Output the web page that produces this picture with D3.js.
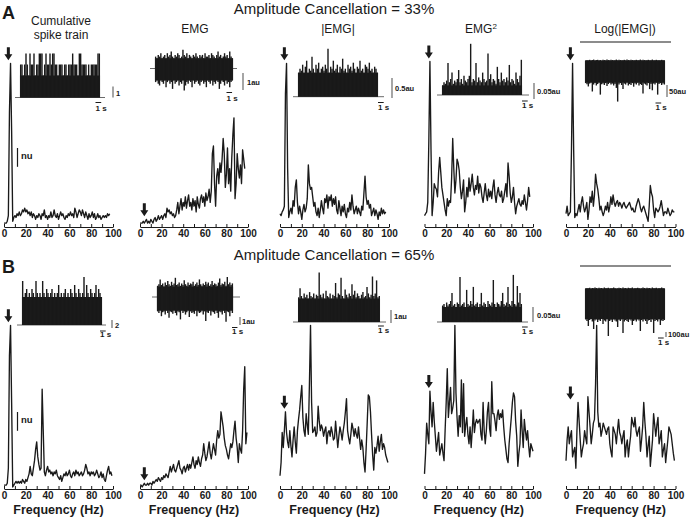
<!DOCTYPE html>
<html><head><meta charset="utf-8">
<script src="https://cdn.jsdelivr.net/npm/d3@7"></script>
<style>body{margin:0;background:#fff}svg{display:block}text{font-family:"Liberation Sans",Arial,Helvetica,sans-serif;fill:#1a1a1a}</style>
</head><body><svg id="c" width="694" height="518"></svg>
<script>
// ---------------- DATA ----------------
const rowHeadings = ["Amplitude Cancellation = 33%", "Amplitude Cancellation = 65%"];
const rowLetters = ["A", "B"];
const columnTitles = ["Cumulative spike train", "EMG", "|EMG|", "EMG2", "Log(|EMG|)"];
const freqTicks = [0, 20, 40, 60, 80, 100];
const freqStepHz = 1;
const xLabel = "Frequency (Hz)";
const nuLabel = "nu";

// Spectra (normalized units), one value per Hz starting at 0 Hz
const specA1 = [0.01,0.01,0.01,0.02,0.05,0.6,0.86,0.5,0.02,0.04,0.05,0.04,0.06,0.05,0.07,0.05,0.06,0.08,0.07,0.09,0.07,0.08,0.06,0.07,0.05,0.07,0.04,0.06,0.05,0.03,0.05,0.04,0.06,0.05,0.03,0.06,0.05,0.08,0.04,0.05,0.03,0.05,0.04,0.07,0.04,0.05,0.08,0.05,0.04,0.06,0.03,0.05,0.07,0.05,0.06,0.04,0.03,0.05,0.04,0.06,0.05,0.07,0.05,0.06,0.04,0.09,0.07,0.04,0.06,0.08,0.07,0.05,0.08,0.06,0.04,0.07,0.05,0.03,0.06,0.04,0.05,0.07,0.04,0.06,0.03,0.04,0.06,0.04,0.05,0.03,0.04,0.05,0.04,0.05,0.04,0.06,0.05,0.06];
const specA2 = [0.01,0.01,0.01,0.02,0.01,0.02,0.03,0.01,0.02,0.01,0.03,0.02,0.01,0.03,0.04,0.02,0.03,0.05,0.03,0.04,0.05,0.03,0.05,0.06,0.04,0.09,0.07,0.08,0.06,0.07,0.05,0.06,0.04,0.05,0.08,0.12,0.06,0.10,0.14,0.08,0.12,0.10,0.15,0.09,0.13,0.16,0.10,0.12,0.08,0.14,0.10,0.13,0.07,0.15,0.11,0.09,0.14,0.16,0.12,0.15,0.10,0.17,0.13,0.15,0.19,0.12,0.18,0.38,0.42,0.22,0.10,0.26,0.30,0.22,0.33,0.28,0.35,0.46,0.38,0.20,0.27,0.41,0.22,0.30,0.18,0.36,0.48,0.57,0.14,0.22,0.38,0.30,0.25,0.32,0.22,0.40,0.35,0.30];
const specA3 = [0.06,0.05,0.07,0.08,0.10,0.70,0.86,0.30,0.04,0.07,0.09,0.06,0.13,0.10,0.20,0.24,0.12,0.06,0.10,0.07,0.03,0.08,0.11,0.07,0.09,0.14,0.32,0.22,0.19,0.20,0.15,0.10,0.12,0.07,0.05,0.09,0.04,0.08,0.13,0.09,0.06,0.14,0.12,0.16,0.09,0.15,0.13,0.16,0.10,0.14,0.11,0.15,0.08,0.06,0.13,0.09,0.05,0.10,0.07,0.11,0.06,0.04,0.09,0.07,0.12,0.08,0.16,0.10,0.06,0.08,0.10,0.06,0.09,0.07,0.05,0.10,0.08,0.17,0.26,0.15,0.11,0.13,0.09,0.11,0.05,0.07,0.09,0.05,0.08,0.06,0.03,0.07,0.05,0.09,0.06,0.08,0.06,0.07];
const specA4 = [0.05,0.06,0.07,0.12,0.45,0.87,0.40,0.05,0.12,0.22,0.20,0.19,0.15,0.28,0.36,0.28,0.20,0.16,0.12,0.08,0.05,0.14,0.10,0.13,0.12,0.25,0.46,0.30,0.17,0.24,0.35,0.33,0.29,0.20,0.14,0.18,0.24,0.07,0.12,0.20,0.15,0.25,0.18,0.22,0.27,0.20,0.16,0.21,0.19,0.26,0.17,0.22,0.20,0.15,0.12,0.17,0.22,0.16,0.13,0.19,0.15,0.18,0.14,0.20,0.24,0.16,0.12,0.17,0.20,0.16,0.15,0.18,0.12,0.14,0.18,0.22,0.15,0.33,0.26,0.17,0.12,0.15,0.20,0.12,0.06,0.10,0.12,0.14,0.11,0.10,0.13,0.11,0.16,0.12,0.08,0.13,0.20,0.15];
const specA5 = [0.06,0.10,0.05,0.06,0.07,0.40,0.86,0.40,0.04,0.06,0.05,0.08,0.11,0.07,0.12,0.15,0.10,0.07,0.09,0.12,0.03,0.08,0.15,0.12,0.18,0.10,0.16,0.27,0.22,0.19,0.14,0.08,0.10,0.07,0.05,0.07,0.10,0.08,0.12,0.07,0.10,0.15,0.11,0.16,0.12,0.10,0.12,0.13,0.10,0.12,0.11,0.09,0.11,0.12,0.10,0.09,0.10,0.11,0.12,0.10,0.08,0.09,0.07,0.07,0.10,0.12,0.14,0.12,0.09,0.07,0.09,0.10,0.08,0.06,0.04,0.02,0.10,0.21,0.17,0.15,0.08,0.04,0.09,0.08,0.07,0.08,0.10,0.13,0.09,0.05,0.07,0.07,0.06,0.09,0.07,0.05,0.06,0.08,0.07,0.07];
const specB1 = [0.01,0.01,0.01,0.02,0.10,0.70,0.86,0.45,0.00,0.01,0.02,0.03,0.02,0.03,0.02,0.03,0.02,0.04,0.03,0.02,0.04,0.03,0.05,0.07,0.11,0.07,0.06,0.10,0.14,0.20,0.24,0.16,0.12,0.09,0.10,0.52,0.30,0.08,0.06,0.09,0.11,0.08,0.09,0.07,0.08,0.06,0.08,0.07,0.09,0.06,0.05,0.04,0.06,0.03,0.05,0.07,0.06,0.08,0.06,0.07,0.09,0.06,0.05,0.07,0.08,0.06,0.09,0.07,0.08,0.06,0.07,0.08,0.06,0.07,0.09,0.12,0.10,0.07,0.08,0.06,0.08,0.07,0.08,0.06,0.07,0.09,0.07,0.05,0.06,0.08,0.05,0.07,0.04,0.03,0.06,0.09,0.11,0.07,0.08,0.06];
const specB2 = [0.01,0.01,0.00,0.01,0.02,0.01,0.01,0.02,0.01,0.02,0.02,0.01,0.03,0.02,0.03,0.04,0.03,0.05,0.04,0.03,0.05,0.04,0.06,0.05,0.07,0.06,0.05,0.08,0.11,0.08,0.10,0.12,0.09,0.08,0.10,0.12,0.14,0.10,0.09,0.07,0.10,0.11,0.08,0.10,0.12,0.09,0.12,0.10,0.13,0.16,0.12,0.10,0.14,0.12,0.16,0.13,0.11,0.15,0.17,0.23,0.18,0.14,0.16,0.20,0.24,0.18,0.15,0.19,0.23,0.20,0.17,0.25,0.30,0.26,0.28,0.40,0.36,0.32,0.26,0.22,0.20,0.17,0.15,0.19,0.23,0.21,0.24,0.30,0.35,0.26,0.21,0.13,0.23,0.20,0.18,0.30,0.52,0.64,0.23,0.29];
const specB3 = [0.06,0.13,0.29,0.21,0.30,0.40,0.29,0.24,0.21,0.30,0.22,0.16,0.25,0.32,0.24,0.18,0.30,0.36,0.41,0.48,0.54,0.37,0.30,0.27,0.39,0.33,0.28,0.55,0.86,0.45,0.29,0.30,0.32,0.27,0.29,0.43,0.35,0.30,0.33,0.31,0.27,0.30,0.32,0.23,0.29,0.30,0.27,0.32,0.29,0.25,0.26,0.35,0.28,0.21,0.27,0.32,0.29,0.25,0.30,0.34,0.40,0.47,0.30,0.26,0.23,0.28,0.34,0.31,0.27,0.31,0.28,0.26,0.32,0.26,0.20,0.25,0.21,0.13,0.08,0.20,0.34,0.49,0.48,0.40,0.28,0.17,0.09,0.21,0.18,0.22,0.27,0.19,0.24,0.28,0.20,0.23,0.21,0.17,0.15,0.13];
const specB4 = [0.07,0.18,0.34,0.28,0.23,0.51,0.40,0.32,0.45,0.35,0.27,0.19,0.24,0.29,0.17,0.20,0.23,0.18,0.14,0.30,0.45,0.63,0.37,0.45,0.53,0.39,0.42,0.46,0.86,0.50,0.37,0.27,0.38,0.32,0.57,0.29,0.55,0.27,0.33,0.37,0.28,0.23,0.32,0.21,0.30,0.41,0.29,0.34,0.36,0.34,0.35,0.36,0.28,0.25,0.45,0.30,0.23,0.30,0.40,0.45,0.31,0.27,0.56,0.39,0.39,0.35,0.30,0.38,0.41,0.36,0.39,0.37,0.41,0.32,0.25,0.20,0.15,0.13,0.23,0.30,0.37,0.45,0.50,0.48,0.35,0.27,0.11,0.18,0.23,0.41,0.30,0.21,0.36,0.30,0.25,0.30,0.22,0.16,0.23,0.21,0.19];
const specB5 = [0.14,0.25,0.32,0.23,0.27,0.30,0.16,0.19,0.21,0.10,0.30,0.45,0.35,0.25,0.16,0.20,0.23,0.30,0.26,0.23,0.48,0.40,0.32,0.23,0.28,0.34,0.36,0.55,0.86,0.40,0.32,0.34,0.27,0.30,0.34,0.32,0.30,0.28,0.31,0.32,0.23,0.19,0.16,0.32,0.30,0.28,0.23,0.30,0.36,0.29,0.27,0.23,0.27,0.30,0.16,0.22,0.25,0.16,0.22,0.27,0.37,0.34,0.32,0.37,0.30,0.27,0.30,0.32,0.19,0.25,0.32,0.45,0.35,0.27,0.16,0.22,0.27,0.11,0.18,0.25,0.39,0.33,0.27,0.33,0.37,0.23,0.26,0.30,0.16,0.20,0.23,0.13,0.19,0.25,0.32,0.30,0.28,0.23,0.18,0.14];

// Inset time series (60 bins over the recording)
const insetDurationS = 14;
const spikeA1 = [3,3,2,3,4,3,2,4,3,3,4,2,3,3,4,4,4,2,3,4,3,3,4,3,4,4,3,3,2,3,3,3,2,3,3,2,3,3,3,4,3,3,3,2,4,4,3,3,3,3,2,3,2,3,3,3,3,3,4,4];
const emgA2Pos = [0.7,0.6,0.8,0.7,0.9,0.6,0.7,0.8,0.6,0.9,0.7,0.8,1.0,0.7,0.6,0.8,0.7,0.9,0.8,0.6,0.7,1.1,0.8,0.7,0.9,0.6,0.8,0.7,0.6,0.8,0.7,0.9,0.7,0.6,0.8,0.7,0.8,0.6,0.9,0.7,0.7,0.8,0.6,0.9,0.8,0.7,0.6,0.8,1.0,0.7,0.8,0.6,0.7,0.9,0.7,0.8,0.6,1.0,0.7,0.6];
const emgA2Neg = [-0.8,-0.7,-0.9,-1.0,-0.7,-0.8,-0.9,-0.7,-1.1,-0.8,-0.7,-0.9,-0.8,-1.2,-0.7,-0.9,-0.8,-0.7,-1.0,-0.8,-0.9,-0.7,-1.3,-1.0,-0.8,-0.9,-0.7,-0.8,-1.1,-0.7,-0.9,-0.8,-0.7,-0.9,-1.0,-0.8,-0.7,-0.9,-0.8,-1.1,-0.7,-0.8,-0.9,-0.7,-1.0,-0.8,-0.9,-0.7,-0.8,-1.2,-0.9,-0.7,-0.8,-1.0,-0.7,-0.9,-0.8,-1.1,-0.8,-0.7];
const rectA3 = [0.6,0.7,0.65,0.8,0.6,0.75,0.9,0.6,0.7,0.65,1.0,0.7,0.6,0.8,0.7,0.85,0.6,0.7,0.75,0.65,0.8,0.7,1.2,0.6,0.75,0.7,0.9,0.65,0.7,0.8,0.6,0.75,0.7,0.95,0.65,0.7,0.6,0.8,0.7,0.75,0.65,0.85,0.7,0.6,0.75,0.7,0.9,0.65,0.7,0.6,0.8,0.75,0.7,0.85,0.65,0.7,0.6,0.75,0.7,0.6];
const sqA4 = [0.03,0.04,0.035,0.045,0.10,0.04,0.05,0.07,0.035,0.045,0.04,0.05,0.078,0.04,0.05,0.035,0.06,0.045,0.04,0.05,0.06,0.16,0.04,0.05,0.045,0.10,0.04,0.055,0.045,0.04,0.07,0.05,0.04,0.045,0.13,0.05,0.065,0.04,0.05,0.045,0.035,0.088,0.05,0.04,0.07,0.045,0.05,0.04,0.055,0.045,0.094,0.04,0.05,0.045,0.035,0.07,0.05,0.04,0.06,0.11];
const logA5Hi = [4,6,5,7,5,6,8,5,6,7,5,6,4,7,6,5,8,6,5,7,6,5,6,8,5,7,6,5,6,7,5,8,6,5,7,6,5,6,7,5,6,8,5,7,6,5,6,7,5,6,8,5,6,7,5,6,5,7,6,5];
const logA5Lo = [-90,-95,-104,-92,-88,-125,-96,-90,-100,-94,-88,-138,-95,-92,-98,-90,-102,-94,-88,-96,-92,-100,-94,-110,-167,-96,-90,-98,-115,-92,-96,-88,-100,-94,-98,-90,-105,-92,-96,-88,-100,-94,-98,-133,-92,-96,-100,-90,-115,-94,-120,-92,-96,-88,-138,-94,-90,-98,-92,-96];
const spikeB1 = [11,7,8,9,7,8,7,9,8,7,11,8,7,8,7,11,8,7,9,8,7,8,9,7,8,7,8,10,7,8,7,8,9,7,8,7,9,8,7,10,8,7,9,8,7,8,12,7,10,8,7,9,8,7,8,10,7,9,8,7];
const emgB2Pos = [1.4,1.6,2.2,1.5,1.7,1.3,1.8,1.5,2.0,1.6,1.4,1.9,1.5,1.7,2.4,1.5,1.6,1.8,1.4,1.7,1.5,2.1,1.6,1.4,1.8,1.5,1.7,1.6,1.9,1.4,1.6,1.8,1.5,2.2,1.6,1.4,1.7,1.5,1.9,1.6,1.8,1.4,1.6,2.0,1.5,1.7,1.6,1.4,1.8,2.3,1.5,1.7,1.6,1.9,1.4,2.5,1.6,1.8,1.5,1.7];
const emgB2Neg = [-1.8,-2.0,-1.7,-2.4,-1.9,-1.8,-2.2,-1.7,-2.0,-2.6,-1.8,-1.9,-2.1,-1.7,-2.0,-2.3,-1.8,-1.9,-2.8,-1.7,-2.0,-1.8,-2.2,-1.9,-1.7,-2.5,-1.8,-2.0,-1.9,-2.1,-1.7,-2.4,-1.8,-2.0,-1.9,-1.7,-2.2,-1.8,-3.0,-1.9,-2.0,-1.7,-2.3,-1.8,-1.9,-2.1,-1.7,-2.0,-2.6,-1.8,-1.9,-2.2,-1.7,-2.0,-3.1,-1.8,-1.9,-2.4,-1.7,-2.0];
const rectB3 = [1.9,2.6,2.0,1.8,2.2,1.9,2.1,1.8,2.3,2.0,1.9,2.2,1.8,2.1,2.0,3.8,2.1,1.9,2.2,1.8,2.4,2.0,1.9,2.2,1.8,2.1,2.0,3.0,1.9,2.2,2.1,3.4,2.0,1.8,2.5,2.1,1.9,2.2,2.0,2.9,2.1,2.4,1.9,2.2,2.0,1.8,2.1,2.3,1.9,2.0,2.7,2.2,1.9,2.1,3.5,2.0,2.2,3.2,1.9,2.0];
const sqB4 = [0.055,0.06,0.05,0.065,0.055,0.06,0.07,0.097,0.055,0.06,0.05,0.065,0.06,0.15,0.055,0.06,0.065,0.05,0.107,0.06,0.055,0.07,0.06,0.117,0.055,0.06,0.065,0.05,0.06,0.097,0.055,0.065,0.06,0.05,0.07,0.06,0.055,0.065,0.14,0.06,0.05,0.065,0.06,0.055,0.07,0.097,0.06,0.055,0.065,0.117,0.06,0.055,0.07,0.157,0.06,0.055,0.12,0.065,0.097,0.06];
const logB5Hi = [10,20,15,25,10,20,15,30,20,10,25,15,20,10,30,15,20,25,10,20,15,30,20,10,15,25,20,10,30,15,20,10,25,15,20,30,10,20,15,25,20,10,15,30,20,10,25,15,20,10,30,15,20,25,10,20,15,30,20,10];
const logB5Lo = [-610,-640,-740,-620,-600,-650,-800,-630,-610,-660,-620,-640,-600,-700,-630,-650,-610,-940,-640,-620,-660,-610,-630,-650,-760,-620,-640,-610,-880,-650,-620,-640,-660,-610,-630,-720,-640,-620,-650,-610,-630,-840,-620,-650,-610,-640,-700,-630,-620,-660,-610,-880,-640,-620,-650,-610,-720,-630,-640,-620];

// Scale-bar values
const scaleBarValues = [[1, 1, 0.5, 0.05, 50], [2, 1, 1, 0.05, 100]];
const scaleBarLabels = [["1", "1au", "0.5au", "0.05au", "50au"], ["2", "1au", "1au", "0.05au", "100au"]];
const timeBarLabel = "1 s";

// ---------------- LAYOUT ----------------
const svg = d3.select("#c");
const INK = "#1a1a1a", GREY = "#6a6a6a";
const cols = [{x0:4,x1:113},{x0:140,x1:248},{x0:280,x1:389},{x0:424.5,x1:533},{x0:566,x1:675.5}];
const rows = [{axisY:227, zeroY:225, oneY:37, nuTop:148}, {axisY:489, zeroY:487, oneY:299, nuTop:412}];
const spectra = [[specA1,specA2,specA3,specA4,specA5],[specB1,specB2,specB3,specB4,specB5]];

rowLetters.forEach((L,r) => {
  svg.append("text").attr("x", 2).attr("y", r ? 273 : 19).attr("font-size", 18).attr("font-weight", "bold").text(L);
});
rowHeadings.forEach((h,r) => {
  svg.append("text").attr("x", 334).attr("y", r ? 260 : 14).attr("text-anchor","middle").attr("font-size", 15).text(h);
});

const titleWords = columnTitles[0].split(" ");
svg.append("text").attr("x",61).attr("y",25).attr("text-anchor","middle").attr("font-size",12).text(titleWords[0]);
svg.append("text").attr("x",61).attr("y",38.5).attr("text-anchor","middle").attr("font-size",12).text(titleWords.slice(1).join(" "));
svg.append("text").attr("x",195).attr("y",33).attr("text-anchor","middle").attr("font-size",12).text(columnTitles[1]);
svg.append("text").attr("x",338).attr("y",33).attr("text-anchor","middle").attr("font-size",12).text(columnTitles[2]);
const t3 = svg.append("text").attr("x",481).attr("y",33).attr("text-anchor","middle").attr("font-size",12);
t3.append("tspan").text(columnTitles[3].slice(0,3));
t3.append("tspan").attr("font-size",8).attr("dy",-4.5).text(columnTitles[3].slice(3));
svg.append("text").attr("x",625).attr("y",33).attr("text-anchor","middle").attr("font-size",12).text(columnTitles[4]);

rows.forEach((R, r) => {
  cols.forEach((C, c) => {
    const data = spectra[r][c];
    const x = d3.scaleLinear().domain([0,100]).range([C.x0, C.x1]);
    const y = d3.scaleLinear().domain([0,1]).range([R.zeroY, R.oneY]);
    const g = svg.append("g");
    g.append("path").attr("fill","none").attr("stroke",INK).attr("stroke-width",1.35).attr("stroke-linejoin","round")
      .attr("d", d3.line()(data.map((v,i) => [x(i*freqStepHz), y(v)])));
    const ax = g.append("g").attr("transform",`translate(0,${R.axisY})`)
      .call(d3.axisBottom(x).tickValues(d3.range(0,101,10)).tickSizeInner(-3).tickSizeOuter(0).tickPadding(3)
        .tickFormat(d => freqTicks.includes(d) ? d : ""));
    ax.select(".domain").attr("stroke", INK).attr("stroke-width", 1);
    ax.selectAll(".tick line").attr("stroke", INK);
    ax.selectAll(".tick text").attr("font-size", 10).attr("font-weight","bold").attr("fill", INK)
      .attr("font-family",'"Liberation Sans",Arial,sans-serif');
    if (r === 1) {
      g.append("text").attr("x",(C.x0+C.x1)/2).attr("y",514).attr("text-anchor","middle")
        .attr("font-size",12.5).attr("font-weight","bold").text(xLabel);
    }
    const ax4 = x(4);
    const tip = y(d3.max(data.slice(3,12))) - 3;
    const top = tip - 13;
    g.append("path").attr("fill", INK)
      .attr("d", `M${ax4-1.5},${top}H${ax4+1.5}V${tip-6}H${ax4+4}L${ax4},${tip}L${ax4-4},${tip-6}H${ax4-1.5}Z`);
    if (c === 0) {
      const nuLen = y(0) - y(0.1);
      g.append("line").attr("x1",17.5).attr("x2",17.5).attr("y1",R.nuTop).attr("y2",R.nuTop+nuLen).attr("stroke",INK).attr("stroke-width",1.2);
      g.append("text").attr("x",21).attr("y",R.nuTop+11).attr("font-size",9.5).attr("font-weight","bold").text(nuLabel);
    }
  });
});

// ---------------- INSETS ----------------
const insets = [
  {r:0,c:0,type:"bar",  d:[spikeA1], x0:20,  x1:100, base:97.5, k:11,   line:[15,105],  lineY:97.5, v:{x:113,y:97.5,lx:116,ly:96},  t:{x:95.5,y:102.5,ty:111}},
  {r:0,c:1,type:"bi",   d:[emgA2Pos,emgA2Neg], x0:155, x1:233, base:68.5, k:17, line:[150,237], lineY:68.5, v:{x:243,y:90,lx:247,ly:85}, t:{x:226.5,y:92.5,ty:101}},
  {r:0,c:2,type:"bar",  d:[rectA3], x0:298, x1:378, base:96.7, k:40,  line:[293,384], lineY:96.7, v:{x:392,y:98,lx:395,ly:91}, t:{x:378,y:102.5,ty:110}},
  {r:0,c:3,type:"bar",  d:[sqA4],   x0:442, x1:522, base:95,   k:320, line:[437,529], lineY:95, v:{x:534,y:99,lx:537,ly:94}, t:{x:522,y:101,ty:108}},
  {r:0,c:4,type:"bi",   d:[logA5Hi,logA5Lo], x0:585, x1:665, base:61.5, k:0.24, line:[580,671], lineY:42, v:{x:667,y:97,lx:669,ly:94}, t:{x:655.5,y:103,ty:110}},
  {r:1,c:0,type:"bar",  d:[spikeB1], x0:22, x1:102, base:325, k:4, line:[17,106], lineY:325, v:{x:112,y:328,lx:115,ly:328}, t:{x:100,y:331,ty:337}},
  {r:1,c:1,type:"bi",   d:[emgB2Pos,emgB2Neg], x0:157, x1:233, base:297, k:8, line:[152,240], lineY:297, v:{x:240,y:325,lx:242,ly:324}, t:{x:232,y:327.5,ty:334}},
  {r:1,c:2,type:"bar",  d:[rectB3], x0:298, x1:380, base:322, k:13, line:[293,386], lineY:322, v:{x:391,y:323,lx:394,ly:319}, t:{x:378,y:326,ty:333}},
  {r:1,c:3,type:"bar",  d:[sqB4],   x0:442, x1:522, base:322, k:300, line:[437,528], lineY:322, v:{x:533,y:322,lx:537,ly:318}, t:{x:522,y:327,ty:334}},
  {r:1,c:4,type:"bi",   d:[logB5Hi,logB5Lo], x0:585, x1:665, base:289, k:0.05, line:[580,671], lineY:266, v:{x:666,y:337,lx:668,ly:337}, t:{x:658,y:338,ty:345}}
];

insets.forEach(s => {
  const g = svg.append("g");
  const n = s.d[0].length;
  const tx = d3.scaleLinear().domain([0, insetDurationS]).range([s.x0, s.x1]);
  const ys = d3.scaleLinear().domain([0, 1]).range([s.base, s.base - s.k]);
  g.append("line").attr("x1",s.line[0]).attr("x2",s.line[1]).attr("y1",s.lineY).attr("y2",s.lineY)
    .attr("stroke", s.c === 4 ? INK : GREY).attr("stroke-width", s.c === 4 ? 1.2 : 1);
  const bins = d3.range(n).map(i => ({t:(i+0.5)*insetDurationS/n, a:s.d[0][i], b: s.type === "bi" ? s.d[1][i] : 0}));
  const coreTop = d3.min(bins, d => d.a);
  const coreBot = d3.max(bins, d => d.b);
  g.append("rect").attr("x", tx(bins[0].t) - 0.7).attr("width", tx(bins[n-1].t) - tx(bins[0].t) + 1.4)
    .attr("y", ys(coreTop)).attr("height", ys(coreBot) - ys(coreTop)).attr("fill", INK);
  g.selectAll("line.b").data(bins).join("line").attr("class","b")
    .attr("x1", d => tx(d.t)).attr("x2", d => tx(d.t))
    .attr("y1", d => ys(d.b)).attr("y2", d => ys(d.a))
    .attr("stroke", INK).attr("stroke-width", 1.4);
  const val = scaleBarValues[s.r][s.c];
  const len = ys(0) - ys(val);
  g.append("line").attr("x1",s.v.x).attr("x2",s.v.x).attr("y1",s.v.y - len).attr("y2",s.v.y).attr("stroke",GREY).attr("stroke-width",1.2);
  g.append("text").attr("x",s.v.lx).attr("y",s.v.ly).attr("font-size",7.5).attr("font-weight","bold").text(scaleBarLabels[s.r][s.c]);
  const tl = tx(1) - tx(0);
  g.append("line").attr("x1",s.t.x).attr("x2",s.t.x + tl).attr("y1",s.t.y).attr("y2",s.t.y).attr("stroke",INK).attr("stroke-width",1);
  g.append("text").attr("x",s.t.x).attr("y",s.t.ty).attr("font-size",8).attr("font-weight","bold").text(timeBarLabel);
});
</script>
</body></html>
